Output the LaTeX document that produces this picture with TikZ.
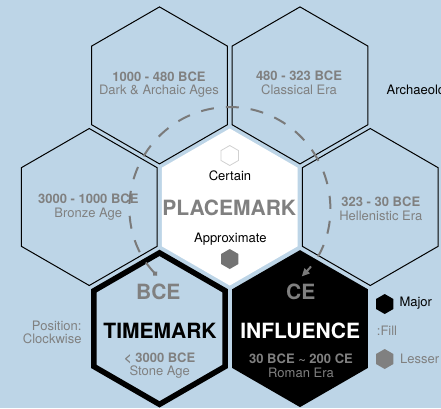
\documentclass[tikz,border=0pt]{standalone}
\usepackage{fontspec}
\setmainfont{TeX Gyre Heros}
\usetikzlibrary{shapes.geometric,arrows.meta}
\definecolor{sky}{RGB}{189,213,231}
\definecolor{ash}{RGB}{128,128,128}
\definecolor{dashgray}{RGB}{122,122,122}
\tikzset{hex/.style = {regular polygon, regular polygon sides=6, shape border rotate=30, minimum size=157pt, inner sep=0pt, outer sep=0pt},
         era/.style = {hex, draw, line width=1pt},
         icon/.style = {regular polygon, regular polygon sides=6, shape border rotate=30, minimum size=20pt, inner sep=0pt},
         txt/.style = {font=\fontsize{13}{13.5}\selectfont, align=center, inner sep=0pt},
         big/.style = {font=\fontsize{21}{21}\selectfont\bfseries, inner sep=0pt},
         cycle/.style = {dashgray, line width=2pt, dash pattern=on 13pt off 12pt, {Circle[length=5pt]}-{Triangle[length=8pt,width=7pt]}}}

\begin{document}
\begin{tikzpicture}[x=1pt,y=-1pt]
        \useasboundingbox (0,0) rectangle (441,408);
        \clip (0,0) rectangle (441,408);
        \fill[sky] (0,0) rectangle (441,408);

        % ring of eras
        \node[era] (archaic) at (159.5,85.4) {};
        \node[era] (classical) at (300,85.4) {};
        \node[era] (bronze) at (89.25,207) {};
        \node[hex, fill=white] (place) at (229.75,207) {};
        \node[era] (hellenistic) at (370.25,207) {};
        \node[hex, minimum size=151.5pt, draw, line width=5.5pt] (time) at (159.5,328.6) {};
        \node[hex, fill=black] (influence) at (300,328.6) {};

        \node[txt, ash] (archaictxt) at (159,84.7) {\textbf{1000 - 480 BCE}\\Dark \& Archaic Ages};
        \node[txt, ash] (classicaltxt) at (299,83) {\textbf{480 - 323 BCE}\\Classical Era};
        \node[txt, ash] (bronzetxt) at (88.3,207.2) {\textbf{3000 - 1000 BCE}\\Bronze Age};
        \node[txt, ash] (hellenistictxt) at (380.8,208.7) {\textbf{323 - 30 BCE}\\Hellenistic Era};
        \node[txt, anchor=west] (archaeo) at (386.5,90.7) {Archaeology};

        % placemark legend
        \node[icon, draw=black!18, fill=white, line width=0.8pt] (certainhex) at (229.75,155.5) {};
        \node[txt] (certain) at (230,176) {Certain};
        \node[big, ash] (placemark) at (229.3,207.7) {PLACEMARK};
        \node[txt] (approx) at (230.3,239.3) {Approximate};
        \node[icon, fill=black!55] (approxhex) at (229.75,259) {};

        \node[big, ash] (bce) at (158.3,292.3) {BCE};
        \node[big] (timemark) at (160,330.7) {TIMEMARK};
        \node[txt, ash] (stone) at (159.7,365.7) {\textbf{< 3000 BCE}\\Stone Age};

        \node[big, ash] (ce) at (300.8,292.3) {CE};
        \node[big, white] (influencetxt) at (300.2,330.7) {INFLUENCE};
        \node[txt, ash] (roman) at (301,365.7) {\textbf{30 BCE \textasciitilde{} 200 CE}\\Roman Era};

        \node[txt, ash, align=right, anchor=east] (position) at (81.7,332.3) {Position:\\Clockwise};

        % fill legend
        \node[icon, fill=black] (majorhex) at (384.7,304) {};
        \node[txt, anchor=west] (major) at (399.3,303) {Major};
        \node[txt, ash, anchor=west] (fill) at (376.7,331) {:Fill};
        \node[icon, fill=ash] (lesserhex) at (384.7,359) {};
        \node[txt, ash, anchor=west] (lesser) at (400,359) {Lesser};

        \coordinate (arcstart) at (156.85,275.45);
        \draw[cycle] (arcstart) arc[start angle=223.2, end angle=-44, radius=100pt];
    \end{tikzpicture}
\end{document}
